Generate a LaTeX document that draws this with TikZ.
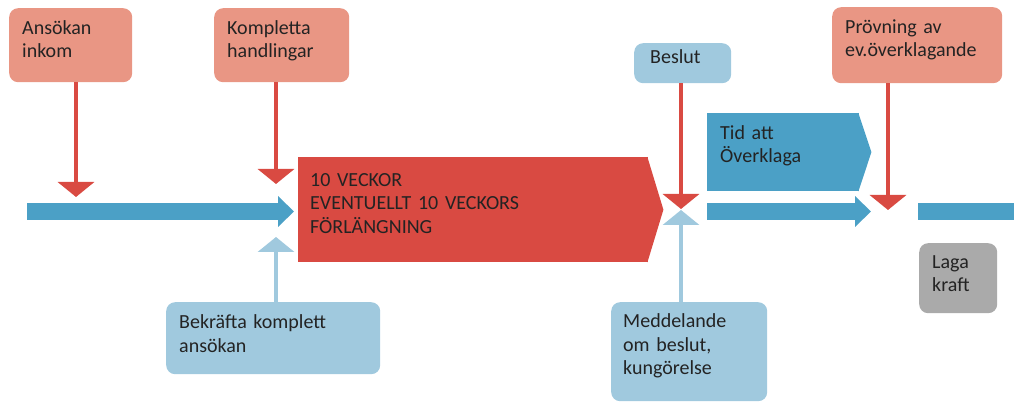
\documentclass[tikz,border=0pt]{standalone}
\usepackage{fontspec}
\setmainfont{Carlito}
\usetikzlibrary{
	positioning,
	arrows.meta,
	calc
}

\definecolor{salmon}{RGB}{233,150,132}
\definecolor{redbar}{RGB}{217,74,66}
\definecolor{bluebar}{RGB}{75,160,198}
\definecolor{lightblue}{RGB}{160,201,222}
\definecolor{grayb}{RGB}{170,170,170}
\definecolor{txt}{RGB}{35,35,35}

\tikzset{
	tbox/.style={rectangle, rounded corners=9pt, anchor=north west, align=left, text width=#1, inner xsep=13pt, inner ysep=0pt, text height=26pt, text=txt, font=\fontsize{20}{23.8}\selectfont},
	chev/.style={tbox=#1, rounded corners=0pt},
	redarrow/.style={draw=redbar, line width=4pt, -{Triangle[width=36pt,length=15pt]}},
	bluearrow/.style={draw=lightblue, line width=4pt, -{Triangle[width=36pt,length=15pt]}},
	timeline/.style={draw=bluebar, line width=17pt, -{Triangle[width=30pt,length=16pt]}}
}

\begin{document}
\begin{tikzpicture}[x=1pt,y=-1pt]
	\useasboundingbox (0,0) rectangle (1014,403);

	% boxes above and below the time line
	\node[tbox=97pt, fill=salmon, text depth=48pt] (ansokan) at (9,8) {Ansökan\\inkom};
	\node[tbox=109pt, fill=salmon, text depth=48pt] (kompletta) at (214,8) {Kompletta\\handlingar};
	\node[tbox=65pt, fill=lightblue, inner xsep=16pt, text height=20pt, text depth=20pt] (beslut) at (634,43) {Beslut};
	\node[tbox=144pt, fill=salmon, text depth=50pt] (provning) at (832,7) {Prövning av\\ev.överklagande};
	\node[tbox=188pt, fill=lightblue, text depth=46pt] (bekrafta) at (166,302) {Bekräfta komplett\\ansökan};
	\node[tbox=132pt, fill=lightblue, inner xsep=12pt, text height=25pt, text depth=74pt] (meddelande) at (611,302) {Meddelande\\om beslut,\\kungörelse};
	\node[tbox=52pt, fill=grayb, text height=25pt, text depth=45pt] (laga) at (919,243) {Laga\\kraft};

	% chevrons
	\node[chev=326pt, fill=redbar, inner xsep=12pt, text height=29pt, text depth=76pt] (veckor) at (298,157) {10 VECKOR\\EVENTUELLT 10 VECKORS\\FÖRLÄNGNING};
	\fill[redbar] ($(veckor.north east)+(-1,0)$) -- ($(veckor.east)+(15,0)$) -- ($(veckor.south east)+(-1,0)$) -- cycle;
	\node[chev=126pt, fill=bluebar, inner xsep=13pt, text depth=52pt] (tid) at (707,113) {Tid att\\Överklaga};
	\fill[bluebar] ($(tid.north east)+(-1,0)$) -- ($(tid.east)+(12,0)$) -- ($(tid.south east)+(-1,0)$) -- cycle;

	% time line
	\coordinate (s1) at (27,211.5);
	\coordinate (e1) at (294,211.5);
	\coordinate (s2) at (707,211.5);
	\coordinate (e2) at (871,211.5);
	\coordinate (s3) at (918,211.5);
	\coordinate (e3) at (1014,211.5);
	\draw[timeline] (s1) -- (e1);
	\draw[timeline] (s2) -- (e2);
	\draw[draw=bluebar, line width=17pt] (s3) -- (e3);

	% arrows onto the time line
	\coordinate (t1) at (76,197);
	\coordinate (t2) at (276,184);
	\coordinate (t3) at (276,237);
	\coordinate (t4) at (681,209);
	\coordinate (t5) at (681,210);
	\coordinate (t6) at (888,210);
	\draw[redarrow] (ansokan.south -| t1) -- (t1);
	\draw[redarrow] (kompletta.south -| t2) -- (t2);
	\draw[bluearrow] (bekrafta.north -| t3) -- (t3);
	\draw[bluearrow] (meddelande.north -| t5) -- (t5);
	\draw[redarrow] (beslut.south -| t4) -- (t4);
	\draw[redarrow] (provning.south -| t6) -- (t6);

\end{tikzpicture}
\end{document}
